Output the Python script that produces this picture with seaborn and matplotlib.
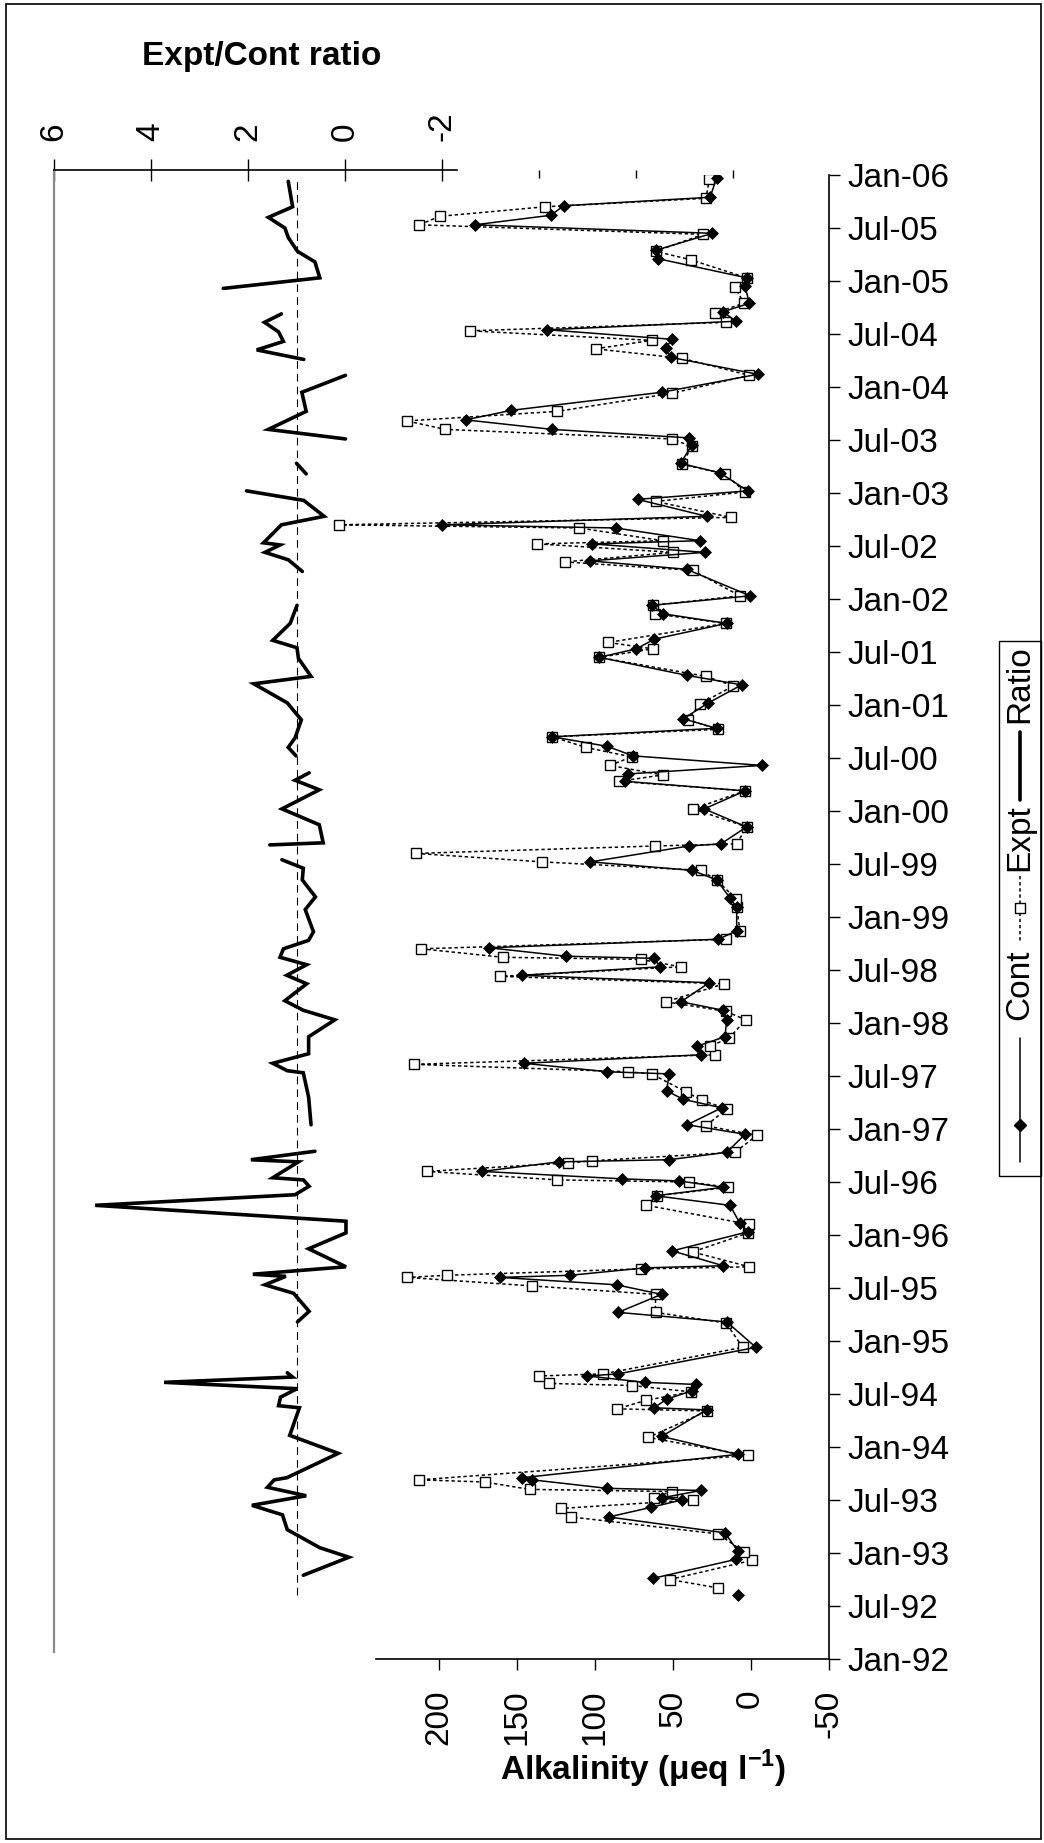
import numpy as np
import pandas as pd
import matplotlib
matplotlib.use("Agg")
import matplotlib.pyplot as plt
import seaborn as sns
from matplotlib.lines import Line2D
from matplotlib.patches import Rectangle

# ---------------------------------------------------------------------------
# Data (decimal years, alkalinity in ueq/l, Expt/Cont ratio)
# ---------------------------------------------------------------------------
cont_dates = [
    2005.97, 2005.79, 2005.71, 2005.62, 2005.53, 2005.45, 2005.29, 2005.21, 2005.03, 2004.95,
    2004.79, 2004.71, 2004.62, 2004.54, 2004.45, 2004.37, 2004.28, 2004.12, 2003.95, 2003.78,
    2003.69, 2003.60, 2003.52, 2003.45, 2003.28, 2003.19, 2003.02, 2002.94, 2002.78, 2002.70,
    2002.67, 2002.55, 2002.52, 2002.44, 2002.36, 2002.28, 2002.03, 2001.94, 2001.86, 2001.77,
    2001.62, 2001.53, 2001.45, 2001.28, 2001.19, 2001.02, 2000.87, 2000.78, 2000.70, 2000.61,
    2000.52, 2000.43, 2000.35, 2000.28, 2000.19, 2000.02, 1999.85, 1999.69, 1999.67, 1999.52,
    1999.44, 1999.35, 1999.18, 1999.09, 1998.87, 1998.79, 1998.71, 1998.63, 1998.61, 1998.53,
    1998.45, 1998.38, 1998.20, 1998.12, 1998.03, 1997.87, 1997.78, 1997.70, 1997.62, 1997.54,
    1997.52, 1997.36, 1997.28, 1997.20, 1997.04, 1996.95, 1996.78, 1996.71, 1996.69, 1996.60,
    1996.53, 1996.51, 1996.45, 1996.37, 1996.28, 1996.11, 1996.03, 1995.85, 1995.71, 1995.69,
    1995.62, 1995.60, 1995.53, 1995.44, 1995.27, 1995.18, 1994.94, 1994.69, 1994.67, 1994.61,
    1994.59, 1994.53, 1994.45, 1994.37, 1994.35, 1994.10, 1993.93, 1993.71, 1993.69, 1993.61,
    1993.59, 1993.52, 1993.50, 1993.43, 1993.34, 1993.19, 1993.02, 1992.94, 1992.76, 1992.68,
    1992.60,
]
cont_alk = [
    21.9, 26.1, 120.0, 128.3, 177.2, 24.6, 60.9, 59.4, 2.6, 3.6,
    0.9, 17.6, 9.6, 130.5, 50.4, 54.6, 51.4, -4.5, 57.2, 153.6,
    183.0, 127.3, 39.6, 37.9, 45.0, 19.7, 1.9, 72.6, 28.3, 198.0,
    86.6, 32.6, 101.6, 29.4, 103.3, 41.1, 0.4, 63.6, 56.1, 15.4,
    62.1, 73.3, 97.3, 41.1, 5.8, 27.2, 43.3, 21.9, 127.3, 92.1,
    75.4, -7.1, 78.6, 80.8, 3.6, 29.8, 2.6, 19.1, 39.6, 102.9,
    37.5, 21.9, 13.3, 9.0, 9.0, 20.8, 168.0, 118.7, 61.9, 58.3,
    146.8, 26.6, 44.8, 17.6, 15.4, 16.5, 34.7, 31.9, 145.7, 92.1,
    52.3, 54.0, 43.3, 18.6, 40.7, 3.6, 15.4, 52.5, 123.2, 172.3,
    82.9, 45.9, 17.6, 61.1, 13.3, 6.9, 1.9, 50.4, 17.6, 67.9,
    115.7, 160.7, 86.1, 57.2, 85.1, 15.4, -3.4, 85.1, 104.8, 67.9,
    35.1, 37.9, 54.0, 62.1, 28.3, 57.2, 8.4, 146.8, 140.1, 92.1,
    31.9, 57.2, 44.4, 64.1, 91.1, 16.5, 8.4, 9.4, 63.0, np.nan,
    8.4,
]

expt_dates = [
    2005.96, 2005.78, 2005.70, 2005.61, 2005.53, 2005.44, 2005.28, 2005.20, 2005.03, 2004.94,
    2004.79, 2004.70, 2004.61, 2004.53, 2004.44, 2004.36, 2004.27, 2004.11, 2003.94, 2003.77,
    2003.68, 2003.60, 2003.51, 2003.44, 2003.27, 2003.18, 2003.01, 2002.92, 2002.77, 2002.70,
    2002.67, 2002.55, 2002.52, 2002.44, 2002.35, 2002.27, 2002.03, 2001.94, 2001.86, 2001.77,
    2001.59, 2001.53, 2001.45, 2001.27, 2001.18, 2001.01, 2000.86, 2000.77, 2000.70, 2000.60,
    2000.51, 2000.43, 2000.34, 2000.28, 2000.19, 2000.02, 1999.85, 1999.69, 1999.67, 1999.60,
    1999.52, 1999.44, 1999.35, 1999.17, 1999.09, 1998.87, 1998.79, 1998.70, 1998.62, 1998.60,
    1998.53, 1998.44, 1998.37, 1998.20, 1998.11, 1998.03, 1997.86, 1997.78, 1997.70, 1997.61,
    1997.54, 1997.52, 1997.35, 1997.27, 1997.19, 1997.03, 1996.94, 1996.78, 1996.70, 1996.68,
    1996.60, 1996.52, 1996.50, 1996.45, 1996.37, 1996.28, 1996.10, 1996.02, 1995.84, 1995.70,
    1995.68, 1995.62, 1995.60, 1995.52, 1995.44, 1995.27, 1995.17, 1994.94, 1994.69, 1994.67,
    1994.60, 1994.58, 1994.52, 1994.44, 1994.36, 1994.34, 1994.09, 1993.92, 1993.69, 1993.67,
    1993.60, 1993.58, 1993.52, 1993.50, 1993.42, 1993.34, 1993.18, 1993.01, 1992.93, 1992.75,
    1992.67,
]
expt_alk = [
    26.6, 28.7, 132.2, 199.7, 212.6, 30.4, 61.1, 38.4, 2.6, 10.1,
    4.3, 22.9, 15.9, 180.0, 63.6, 99.6, 43.9, 0.9, 50.8, 124.1,
    220.7, 196.1, 50.8, 37.9, 43.9, 16.5, 3.6, 61.1, 12.6, 264.3,
    110.1, 56.6, 136.9, 49.7, 119.4, 37.3, 6.9, 63.0, 61.5, 15.9,
    91.5, 62.6, 97.3, 28.7, 11.1, 32.6, 40.1, 21.2, 127.3, 105.8,
    76.5, 90.4, 56.6, 84.4, 3.6, 36.9, 2.6, 9.0, 61.5, 214.7,
    133.7, 32.1, 21.9, 9.4, 9.0, 6.9, 15.9, 211.5, 159.0, 70.7,
    45.0, 161.1, 17.1, 54.4, 15.9, 3.2, 13.7, 26.1, 22.9, 216.2,
    78.6, 63.6, 41.6, 31.1, 15.4, 28.7, -3.9, 10.1, 101.8, 117.2,
    207.8, 124.1, 39.4, 14.4, 60.0, 66.9, 0.9, 1.5, 37.3, 0.9,
    70.7, 195.0, 220.5, 140.3, 61.1, 61.1, 15.9, 5.1, 94.7, 135.8,
    129.6, 76.1, 38.4, 67.3, 85.7, 27.9, 65.8, 1.9, 212.6, 170.8,
    141.8, 50.8, 62.1, 36.9, 121.9, 115.1, 20.8, 4.3, -0.6, 51.9,
    20.8,
]

# NaN marks a break in the ratio record
ratio_dates = [
    2005.94, 2005.70, 2005.60, 2005.50, 2005.41, 2005.28, 2005.18, 2005.03, 2004.93, 2004.80,
    2004.69, 2004.61, 2004.52, 2004.43, 2004.35, 2004.26, 2004.18,
    2004.11, 2003.95, 2003.77, 2003.60, 2003.51, 2003.40,
    2003.28, 2003.18, 2003.10,
    2003.02, 2002.93, 2002.78, 2002.70, 2002.53, 2002.51, 2002.44, 2002.37, 2002.26, 2002.10,
    2001.94, 2001.77, 2001.61, 2001.54, 2001.44, 2001.27, 2001.20, 2001.02, 2000.86, 2000.69,
    2000.60, 2000.52, 2000.44,
    2000.36, 2000.29, 2000.20, 2000.02, 1999.87, 1999.70, 1999.68, 1999.60,
    1999.54, 1999.46, 1999.35, 1999.19, 1999.07, 1998.86, 1998.78, 1998.70, 1998.62, 1998.55,
    1998.45, 1998.37, 1998.21, 1998.12, 1998.03, 1997.87, 1997.71, 1997.62, 1997.55, 1997.53,
    1997.30, 1997.04, 1996.90,
    1996.79, 1996.71, 1996.69, 1996.54, 1996.52, 1996.46, 1996.38, 1996.28, 1996.13, 1996.02,
    1995.87, 1995.70, 1995.63, 1995.61, 1995.53, 1995.45, 1995.28, 1995.18, 1994.90,
    1994.70, 1994.66, 1994.61, 1994.55, 1994.47, 1994.39, 1994.37, 1994.11, 1993.94, 1993.71,
    1993.69, 1993.62, 1993.54, 1993.45, 1993.36, 1993.22, 1993.05, 1992.96, 1992.79,
]
ratio_values = [
    1.17, 1.08, 1.58, 1.24, 1.17, 0.98, 0.62, 0.52, 2.51, np.nan,
    1.31, 1.66, 1.37, 1.27, 1.82, 0.85, np.nan,
    -0.01, 0.89, 0.80, 1.58, -0.01, np.nan,
    1.00, 0.80, np.nan,
    2.03, 0.85, 0.43, 1.31, 1.68, 1.34, 1.65, 1.17, 0.88, np.nan,
    0.99, 1.13, 1.49, 0.99, 0.96, 0.70, 1.88, 1.19, 0.90, 1.03,
    1.17, 1.01, np.nan,
    0.74, 1.03, 0.53, 1.30, 0.53, 0.45, 1.55, np.nan,
    1.30, 0.86, 0.88, 0.61, 0.82, 0.65, 0.75, 1.27, 1.34, 0.79,
    1.20, 0.79, 1.24, 0.86, 0.21, 0.75, 0.75, 1.49, 1.19, 0.86,
    0.75, 0.70, np.nan,
    0.62, 1.94, 0.96, 1.49, 0.86, 0.74, 1.03, 5.15, -0.02, -0.02,
    0.75, -0.02, 1.90, 1.22, 1.65, 1.06, 0.74, 0.98, np.nan,
    1.19, 1.08, 3.73, 0.99, 1.33, 1.37, 0.94, 1.14, 0.14, 1.20,
    1.46, 1.60, 0.80, 1.92, 1.29, 1.19, 0.52, -0.08, 0.86,
]
ratio_reference = 1.0

alk_ticks = [200, 150, 100, 50, 0, -50]
alk_ticklabels = ["200", "150", "100", "50", "0", "-50"]
ratio_ticks = [6, 4, 2, 0, -2]
ratio_ticklabels = ["6", "4", "2", "0", "-2"]
ratio_minor_ticks = [-4, -6, -8]
date_ticks = [1992 + 0.5 * i for i in range(29)]
date_ticklabels = [
    "Jan-92", "Jul-92", "Jan-93", "Jul-93", "Jan-94", "Jul-94", "Jan-95", "Jul-95",
    "Jan-96", "Jul-96", "Jan-97", "Jul-97", "Jan-98", "Jul-98", "Jan-99", "Jul-99",
    "Jan-00", "Jul-00", "Jan-01", "Jul-01", "Jan-02", "Jul-02", "Jan-03", "Jul-03",
    "Jan-04", "Jul-04", "Jan-05", "Jul-05", "Jan-06",
]


def segmented(dates, values, name):
    """Long-form frame; each run of values between NaNs gets its own unit id."""
    df = pd.DataFrame({"date": dates, name: values})
    df["seg"] = df[name].isna().cumsum()
    return df.dropna().reset_index(drop=True)


cont = segmented(cont_dates, cont_alk, "alk")
expt = segmented(expt_dates, expt_alk, "alk")
ratio = segmented(ratio_dates, ratio_values, "ratio")

# ---------------------------------------------------------------------------
# Figure layout (pixel geometry of a 1044 x 1843 canvas)
# ---------------------------------------------------------------------------
sns.set_theme(style="white")
plt.rcParams["font.family"] = ["Liberation Sans", "DejaVu Sans"]
plt.rcParams["text.color"] = "black"
plt.rcParams["axes.labelcolor"] = "black"
plt.rcParams["mathtext.fontset"] = "custom"
plt.rcParams["mathtext.rm"] = "Liberation Sans"
plt.rcParams["mathtext.bf"] = "Liberation Sans:bold"

W, H = 1044, 1843
fig = plt.figure(figsize=(W / 100, H / 100), dpi=100)
fig.patch.set_facecolor("white")


def fx(px):
    return px / W


def fy(py):
    return 1 - py / H


def rect(x0, y0, x1, y1):
    return [fx(x0), fy(y1), fx(x1) - fx(x0), fy(y0) - fy(y1)]


LEFT, RIGHT = 54, 828.6
YEAR_PX = 106.0           # pixels per year on the time axis
ALK_PX = 1.558            # pixels per ueq/l
ALK_ZERO = 750.7          # pixel column of alkalinity 0
RATIO_PX = 48.5           # pixels per ratio unit
RATIO_ZERO = 345.0        # pixel column of ratio 0

# ratio panel (drawn underneath)
ax_r = fig.add_axes(rect(LEFT, 170, RIGHT, 1652))
# alkalinity panel
ax_a = fig.add_axes(rect(LEFT, 175, RIGHT, 1659))
for ax in (ax_r, ax_a):
    ax.patch.set_alpha(0)
    ax.grid(False)

ax_a.set_ylim(1992, 2006)
ax_r.set_ylim(1992 + (1659 - 1652) / YEAR_PX, 1992 + (1659 - 170) / YEAR_PX)
ax_a.set_xlim((ALK_ZERO - LEFT) / ALK_PX, (ALK_ZERO - RIGHT) / ALK_PX)
ax_r.set_xlim((RATIO_ZERO - LEFT) / RATIO_PX, (RATIO_ZERO - RIGHT) / RATIO_PX)

# --- ratio series ---------------------------------------------------------
ax_r.vlines(ratio_reference, min(cont_dates), max(cont_dates), colors="black",
            linestyles=(0, (7, 4.5)), linewidth=0.8)
sns.lineplot(data=ratio, x="ratio", y="date", units="seg", estimator=None,
             orient="y", sort=True, color="black", linewidth=2.6,
             solid_joinstyle="miter", ax=ax_r, legend=False)

# --- alkalinity series ----------------------------------------------------
sns.lineplot(data=expt, x="alk", y="date", units="seg", estimator=None,
             orient="y", sort=True, color="black", linewidth=1.1,
             linestyle=(0, (2.2, 1.8)), marker="s", markersize=7,
             markerfacecolor="white", markeredgecolor="black",
             markeredgewidth=1.0, ax=ax_a, legend=False)
sns.lineplot(data=cont, x="alk", y="date", units="seg", estimator=None,
             orient="y", sort=True, color="black", linewidth=1.1,
             marker="D", markersize=6, markerfacecolor="black",
             markeredgecolor="black", markeredgewidth=0.5, ax=ax_a,
             legend=False)

# --- alkalinity axes styling ----------------------------------------------
for side in ("left", "top"):
    ax_a.spines[side].set_visible(False)
for side in ("right", "bottom"):
    ax_a.spines[side].set_visible(True)
    ax_a.spines[side].set_color("black")
    ax_a.spines[side].set_linewidth(1.2)
ax_a.spines["bottom"].set_bounds(-50, (ALK_ZERO - 376) / ALK_PX)

ax_a.yaxis.tick_right()
ax_a.set_yticks(date_ticks)
ax_a.set_yticklabels(date_ticklabels)
ax_a.tick_params(axis="y", direction="out", length=8, width=1, pad=5.5,
                 labelsize=24, colors="black", right=True, left=False)
ax_a.set_xticks(alk_ticks)
ax_a.set_xticklabels(alk_ticklabels)
ax_a.tick_params(axis="x", direction="out", length=8, width=1, pad=14,
                 labelsize=24, colors="black", labelrotation=90, bottom=True)
ax_a.set_xlabel("")
ax_a.set_ylabel("")

# --- ratio axes styling ---------------------------------------------------
for side in ("right", "bottom"):
    ax_r.spines[side].set_visible(False)
ax_r.spines["top"].set_visible(True)
ax_r.spines["top"].set_color("black")
ax_r.spines["top"].set_linewidth(1.2)
ax_r.spines["top"].set_bounds((RATIO_ZERO - 457) / RATIO_PX, 6)
ax_r.spines["left"].set_visible(True)
ax_r.spines["left"].set_color("#8a8a8a")
ax_r.spines["left"].set_linewidth(1.6)

ax_r.xaxis.tick_top()
ax_r.set_xticks(ratio_ticks)
ax_r.set_xticklabels(ratio_ticklabels)
ax_r.set_xticks(ratio_minor_ticks, minor=True)
ax_r.tick_params(axis="x", which="major", direction="inout", length=16,
                 width=1, pad=13, labelsize=24, colors="black",
                 labelrotation=90, top=True, bottom=False)
ax_r.tick_params(axis="x", which="minor", direction="in", length=5.5,
                 width=1, colors="black", top=True, bottom=False)
ax_r.set_yticks([])
ax_r.set_xlabel("")
ax_r.set_ylabel("")

# --- titles ---------------------------------------------------------------
fig.text(fx(262), fy(65), "Expt/Cont ratio", ha="center", va="baseline",
         fontsize=24, fontweight="bold", color="black")
fig.text(fx(643), fy(1780), r"Alkalinity (μeq l$^{\mathbf{-1}}$)", ha="center",
         va="baseline", fontsize=24, fontweight="bold", color="black")

# --- legend (vertical, reading bottom to top) -----------------------------
lx = 1020
fig.add_artist(Rectangle((fx(999), fy(1176)), fx(1041) - fx(999),
                         fy(641) - fy(1176), transform=fig.transFigure,
                         facecolor="white", edgecolor="black", linewidth=1.0))
fig.add_artist(Line2D([fx(lx), fx(lx)], [fy(1038), fy(1162)], color="black",
                      linewidth=1.1, transform=fig.transFigure))
fig.add_artist(Line2D([fx(lx)], [fy(1125)], marker="D", markersize=6,
                      color="black", transform=fig.transFigure))
fig.text(fx(lx), fy(985), "Cont", rotation=90, ha="center", va="center",
         fontsize=24, color="black")
fig.add_artist(Line2D([fx(lx), fx(lx)], [fy(876), fy(941)], color="black",
                      linewidth=1.1, linestyle=(0, (2.2, 1.8)),
                      transform=fig.transFigure))
fig.add_artist(Line2D([fx(lx)], [fy(908)], marker="s", markersize=6.5,
                      markerfacecolor="white", markeredgecolor="black",
                      markeredgewidth=1.0, transform=fig.transFigure))
fig.text(fx(lx), fy(838), "Expt", rotation=90, ha="center", va="center",
         fontsize=24, color="black")
fig.add_artist(Line2D([fx(lx), fx(lx)], [fy(732), fy(800)], color="black",
                      linewidth=2.6, transform=fig.transFigure))
fig.text(fx(lx), fy(684), "Ratio", rotation=90, ha="center", va="center",
         fontsize=24, color="black")

# --- chart-area border ----------------------------------------------------
fig.add_artist(Rectangle((fx(6), fy(1839)), fx(1041) - fx(6),
                         fy(4) - fy(1839), transform=fig.transFigure,
                         facecolor="none", edgecolor="black", linewidth=1.2))

fig.savefig("out.png", dpi=100, facecolor="white")
